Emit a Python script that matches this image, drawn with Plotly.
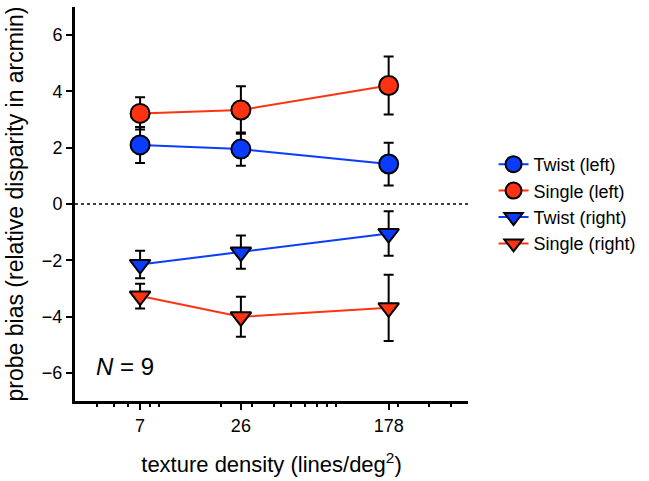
import plotly.graph_objects as go

density = [7, 26, 178]
tick_labels = ["7", "26", "178"]

twist_left = [2.10, 1.95, 1.42]
twist_left_err = [0.64, 0.59, 0.76]
single_left = [3.22, 3.34, 4.21]
single_left_err = [0.57, 0.84, 1.03]
twist_right = [-2.15, -1.71, -1.05]
twist_right_err = [0.49, 0.59, 0.79]
single_right = [-3.27, -4.01, -3.69]
single_right_err = [0.44, 0.71, 1.18]

BLUE = "#0a3cff"
RED = "#ff3311"
FONT = "Liberation Sans, Arial, sans-serif"

series = [
    ("Twist (left)", twist_left, twist_left_err, BLUE, "circle"),
    ("Single (left)", single_left, single_left_err, RED, "circle"),
    ("Twist (right)", twist_right, twist_right_err, BLUE, "triangle-down"),
    ("Single (right)", single_right, single_right_err, RED, "triangle-down"),
]

fig = go.Figure()

# zero reference line
fig.add_trace(go.Scatter(
    x=[3, 500], y=[0, 0], mode="lines",
    line=dict(color="black", width=1.5, dash="dot"),
    showlegend=False, hoverinfo="skip",
))

for name, vals, errs, col, sym in series:
    fig.add_trace(go.Scatter(
        x=density, y=vals, name=name, mode="lines+markers",
        line=dict(color=col, width=2),
        marker=dict(symbol=sym, size=19 if sym == "circle" else 18, color=col,
                    line=dict(color="black", width=2)),
        error_y=dict(type="data", array=errs, visible=True,
                     color="black", thickness=2, width=5),
    ))

fig.update_layout(
    width=649, height=481,
    margin=dict(l=75, r=179, t=7, b=78),
    paper_bgcolor="white", plot_bgcolor="white",
    font=dict(family=FONT, size=18, color="black"),
    legend=dict(x=1.065, xanchor="left", y=0.5, yanchor="middle",
                font=dict(size=18), tracegroupgap=0,
                bgcolor="rgba(0,0,0,0)"),
    annotations=[dict(
        text="<i>N</i> = 9", x=0.048, y=0.088, xref="paper", yref="paper",
        xanchor="left", yanchor="middle", showarrow=False,
        font=dict(size=24, family=FONT),
    )],
)

fig.update_xaxes(
    type="log", range=[0.4771, 2.699],
    tickmode="array", tickvals=density, ticktext=tick_labels,
    ticks="outside", ticklen=6, tickwidth=2, tickcolor="black",
    showline=True, linewidth=3, linecolor="black",
    showgrid=False, zeroline=False,
    tickfont=dict(size=18),
    minor=dict(tickmode="array",
               tickvals=[4, 5, 6, 8, 9, 20, 30, 40, 50, 60, 70, 80, 90, 200, 300, 400],
               ticks="outside", ticklen=3, tickwidth=2, tickcolor="black",
               showgrid=False),
    title=dict(text="texture density (lines/deg<sup>2</sup>)",
               font=dict(size=22), standoff=23),
)

fig.update_yaxes(
    range=[-7, 7],
    tickmode="array", tickvals=[-6, -4, -2, 0, 2, 4, 6],
    ticks="outside", ticklen=6, tickwidth=2, tickcolor="black",
    showline=True, linewidth=3, linecolor="black",
    showgrid=False, zeroline=False,
    tickfont=dict(size=18),
    title=dict(text="probe bias (relative disparity in arcmin)",
               font=dict(size=23), standoff=12),
)

fig.write_html("out.html")
